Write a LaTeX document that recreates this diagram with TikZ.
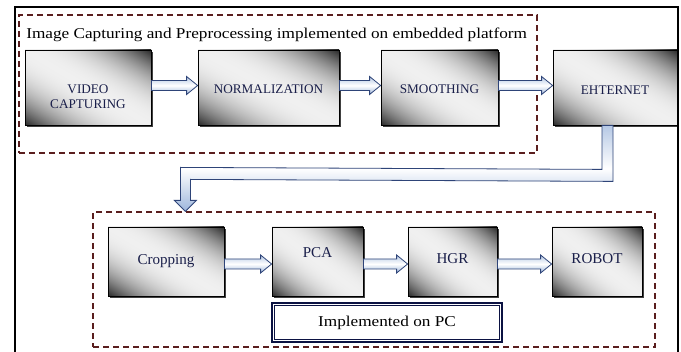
\documentclass[tikz,border=0pt]{standalone}
\usepackage{fontspec}
\setmainfont{Liberation Serif}
\newfontfamily\plainserif{Liberation Serif}
\newfontfamily\widefont{Liberation Serif}[FakeStretch=1.148]
\usetikzlibrary{calc,shadows}

\definecolor{navytext}{HTML}{1A1F4A}
\definecolor{dashred}{HTML}{5A1E1E}
\definecolor{arrowline}{HTML}{2E4478}
\definecolor{arrowfill}{HTML}{9DB6DC}
\definecolor{pcnavy}{HTML}{0B1242}

% grey sheen: light along one diagonal of the box, dark in the two other corners
\pgfdeclarefunctionalshading{stagegrad}{\pgfpoint{0bp}{0bp}}{\pgfpoint{100bp}{100bp}}{}{%
  add 100 div 1 sub abs 2.2 exp 3.6 mul 0.94 exch sub dup dup}

\tikzset{
  stagebox/.style={draw=black, line width=0.6pt, shading=stagegrad,
    drop shadow={shadow xshift=1.3pt, shadow yshift=-1.3pt, opacity=0.75, fill=black},
    inner sep=0pt},
  rowone/.style={minimum height=56.25pt},
  rowtwo/.style={minimum height=51.75pt},
  stagetext/.style={text=navytext, inner sep=0pt, align=center},
  smalltext/.style={font=\plainserif\fontsize{9.9pt}{11.25pt}\selectfont},
  largetext/.style={font=\plainserif\fontsize{11.3pt}{13pt}\selectfont},
  groupframe/.style={draw=dashred, line width=0.9pt, dash pattern=on 4.5pt off 3pt,
    inner sep=0pt},
  blockarrow/.style={draw=arrowline, line width=0.6pt, line join=miter,
    top color=arrowfill!75, bottom color=arrowfill, middle color=white},
}

% straight block arrow between two stages, #3 = vertical offset of its axis
\newcommand{\flowarrow}[3]{%
  \path[blockarrow]
    ($(#1.east)+(0,#3-5)$) -- ($(#2.west)+(-11,#3-5)$) --
    ($(#2.west)+(-11,#3-9)$) -- ($(#2.west)+(0,#3)$) --
    ($(#2.west)+(-11,#3+9)$) -- ($(#2.west)+(-11,#3+5)$) --
    ($(#1.east)+(0,#3+5)$) -- cycle;}

\begin{document}
\begin{tikzpicture}[x=0.75pt, y=-0.75pt]
\useasboundingbox (0,0) rectangle (681,352);
\fill[white] (0,0) rectangle (681,352);

% outer frame
\draw[black, line width=1.6pt] (15,360) -- (15,7) -- (678,7) -- (678,360);

% dashed groups
\node[groupframe, minimum width=388.5pt, minimum height=103.5pt] (embedded) at (278,84) {};
\node[groupframe, minimum width=421.5pt, minimum height=101.25pt] (pcgroup) at (374,279.5) {};

\node[anchor=base west, inner sep=0pt, font=\widefont\fontsize{11.25pt}{13pt}\selectfont] (title) at (26,39)
  {Image Capturing and Preprocessing implemented on embedded platform};

% first row: embedded platform
\node[stagebox, rowone, minimum width=94.5pt,
  label={[name=vidL, stagetext, smalltext, yshift=-7pt]center:VIDEO\\CAPTURING}] (vid) at (88,87.5) {};
\node[stagebox, rowone, minimum width=105.75pt,
  label={[name=normL, stagetext, smalltext, yshift=-1.5pt]center:NORMALIZATION}] (norm) at (268.5,87.5) {};
\node[stagebox, rowone, minimum width=87.75pt,
  label={[name=smoothL, stagetext, smalltext, yshift=-1.5pt]center:SMOOTHING}] (smooth) at (439.5,87.5) {};
\node[stagebox, rowone, minimum width=93pt,
  label={[name=ethL, stagetext, smalltext, yshift=-2pt]center:EHTERNET}] (eth) at (615,87.5) {};

% second row: PC
\node[stagebox, rowtwo, minimum width=87pt,
  label={[name=cropL, stagetext, largetext]center:Cropping}] (crop) at (166,261.5) {};
\node[stagebox, rowtwo, minimum width=68.25pt,
  label={[name=pcaL, stagetext, largetext, yshift=6.4pt]center:PCA}] (pca) at (317.5,261.5) {};
\node[stagebox, rowtwo, minimum width=66.75pt,
  label={[name=hgrL, stagetext, largetext, yshift=1.9pt]center:HGR}] (hgr) at (452.5,261.5) {};
\node[stagebox, rowtwo, minimum width=67.5pt,
  label={[name=robotL, stagetext, largetext, yshift=1.9pt]center:ROBOT}] (robot) at (597,261.5) {};

% caption box with double border
\node[draw=pcnavy, line width=2.2pt, fill=white, minimum width=172.5pt, minimum height=29.25pt,
  inner sep=0pt, font=\widefont\fontsize{11.25pt}{13pt}\selectfont] (impl) at (387,322.5) {Implemented on PC};
\draw[pcnavy, line width=0.6pt] ($(impl.north west)+(4,4)$) rectangle ($(impl.south east)+(-4,-4)$);

% connectors
\flowarrow{vid}{norm}{-2}
\flowarrow{norm}{smooth}{-2}
\flowarrow{smooth}{eth}{-2}
\flowarrow{crop}{pca}{2.5}
\flowarrow{pca}{hgr}{2.5}
\flowarrow{hgr}{robot}{2.5}

% bent link from the network stage down to the PC group
\path[blockarrow]
  ($(eth.south)+(-13,0)$) -- ($(eth.south)+(-13,44)$) --
  ($(pcgroup.north west)+(88,-44)$) -- ($(pcgroup.north west)+(88,-11)$) --
  ($(pcgroup.north west)+(82,-11)$) -- ($(pcgroup.north west)+(93,0)$) --
  ($(pcgroup.north west)+(104,-11)$) -- ($(pcgroup.north west)+(98,-11)$) --
  ($(pcgroup.north west)+(98,-32)$) -- ($(eth.south)+(-2,56)$) --
  ($(eth.south)+(-2,0)$) -- cycle;
\end{tikzpicture}
\end{document}
